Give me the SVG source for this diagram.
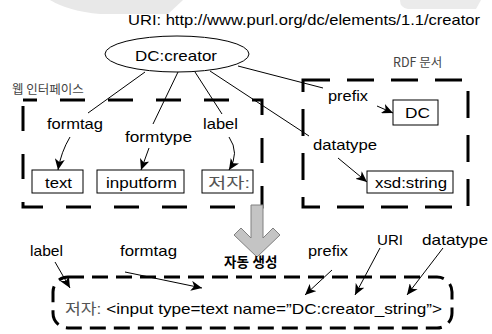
<svg xmlns="http://www.w3.org/2000/svg" width="492" height="334" viewBox="0 0 492 334">
<style>
  text { font-family: "Liberation Sans", "Noto Sans CJK KR", sans-serif; fill: #000; }
  .lbl { font-size: 15px; }
  .ko { font-family: "Noto Sans CJK KR", sans-serif; font-size: 12.5px; fill: #444; }
  .grey { fill: #555; }
  .box { fill: #fff; stroke: #000; stroke-width: 1; }
  .dash { fill: none; stroke: #000; stroke-width: 3; }
  .conn { fill: none; stroke: #000; stroke-width: 1; }
  .arr { marker-end: url(#ah); }
</style>
<defs>
  <marker id="ah" markerUnits="userSpaceOnUse" markerWidth="12" markerHeight="10" refX="11" refY="5" orient="auto">
    <path d="M0,0 L11,5 L0,10 L3,5 Z" fill="#000"/>
  </marker>
</defs>
<rect width="492" height="334" fill="#fff"/>
<!-- faint background shapes -->
<path d="M50,0 L183,0 L168,14 L100,14 Q68,11 50,0 Z" fill="#e8e8e8"/>
<path d="M400,0 L481,0 L476,9 L408,9 Q400,8 400,0 Z" fill="#ebebeb"/>

<text id="uri" class="lbl" x="128" y="25" textLength="352" lengthAdjust="spacingAndGlyphs">URI: http://www.purl.org/dc/elements/1.1/creator</text>

<g id="connectors">
  <line class="conn" x1="145" y1="72" x2="88" y2="113"/>
  <line class="conn" x1="178" y1="72" x2="153" y2="124"/>
  <line class="conn" x1="195" y1="72" x2="222" y2="114"/>
  <line class="conn" x1="210" y1="71" x2="309" y2="136"/>
  <line class="conn" x1="238" y1="66" x2="323" y2="88"/>
  <path class="conn arr" d="M70,137 Q61,152 58,170"/>
  <path class="conn arr" d="M149,148 L141,170"/>
  <path class="conn arr" d="M229,137 Q240,153 229,170"/>
  <path class="conn arr" d="M377,106 L393,113"/>
  <path class="conn arr" d="M338,158 L367,182"/>
  <path class="conn arr" d="M55,262 L70,288"/>
  <path class="conn arr" d="M125,272 L202,288"/>
  <path class="conn arr" d="M332,270 L305,295"/>
  <path class="conn arr" d="M380,248 L355,295"/>
  <path class="conn arr" d="M443,248 L407,295"/>
</g>

<g id="web-interface">
  <rect class="dash" x="23" y="100" width="239" height="107" stroke-dasharray="25 23" stroke-dashoffset="11"/>
  <text class="ko" x="12" y="94">웹 인터페이스</text>
</g>
<g id="rdf-doc">
  <rect class="dash" x="303" y="80" width="165" height="127" stroke-dasharray="27 17" stroke-dashoffset="0"/>
  <text class="ko" x="393" y="67">RDF 문서</text>
</g>

<g id="dc-creator">
  <ellipse cx="177" cy="54" rx="72" ry="18" class="box"/>
  <text class="lbl" x="135" y="61" textLength="82" lengthAdjust="spacingAndGlyphs">DC:creator</text>
</g>

<g id="lbl-formtag"><text class="lbl" x="47" y="129" textLength="56" lengthAdjust="spacingAndGlyphs">formtag</text></g>
<g id="lbl-formtype"><text class="lbl" x="125" y="142" textLength="67" lengthAdjust="spacingAndGlyphs">formtype</text></g>
<g id="lbl-label"><text class="lbl" x="203" y="129" textLength="35" lengthAdjust="spacingAndGlyphs">label</text></g>
<g id="lbl-prefix"><text class="lbl" x="328" y="101" textLength="40" lengthAdjust="spacingAndGlyphs">prefix</text></g>
<g id="lbl-datatype"><text class="lbl" x="313" y="150" textLength="64" lengthAdjust="spacingAndGlyphs">datatype</text></g>

<g id="box-text">
  <rect class="box" x="32" y="170" width="51" height="23"/>
  <text class="lbl" x="45" y="188" textLength="27" lengthAdjust="spacingAndGlyphs">text</text>
</g>
<g id="box-inputform">
  <rect class="box" x="97" y="170" width="87" height="23"/>
  <text class="lbl" x="106" y="188" textLength="71" lengthAdjust="spacingAndGlyphs">inputform</text>
</g>
<g id="box-jeoja">
  <rect class="box" x="202" y="170" width="51" height="23"/>
  <text class="lbl grey" x="208" y="188" textLength="42" lengthAdjust="spacingAndGlyphs">저자:</text>
</g>
<g id="box-dc">
  <rect class="box" x="393" y="100" width="45" height="25"/>
  <text class="lbl" x="405" y="118" textLength="25" lengthAdjust="spacingAndGlyphs">DC</text>
</g>
<g id="box-xsd">
  <rect class="box" x="367" y="171" width="86" height="22"/>
  <text class="lbl" x="375" y="188" textLength="72" lengthAdjust="spacingAndGlyphs">xsd:string</text>
</g>

<g id="auto-arrow">
  <polygon points="251,205 263,205 263,238 273,228 280,235 257,257 234,235 241,228 251,238" fill="#c4c4c4" stroke="#808080" stroke-width="1"/>
  <text x="224" y="267" font-family="'Noto Sans CJK KR', sans-serif" font-size="13.5" font-weight="bold">자동 생성</text>
</g>

<g id="bottom-labels">
  <text class="lbl" x="30" y="256" textLength="33" lengthAdjust="spacingAndGlyphs">label</text>
  <text class="lbl" x="120" y="256" textLength="57" lengthAdjust="spacingAndGlyphs">formtag</text>
  <text class="lbl" x="308" y="256" textLength="40" lengthAdjust="spacingAndGlyphs">prefix</text>
  <text class="lbl" x="377" y="245" textLength="26" lengthAdjust="spacingAndGlyphs">URI</text>
  <text class="lbl" x="422" y="245" textLength="66" lengthAdjust="spacingAndGlyphs">datatype</text>
</g>

<g id="generated-code">
  <rect class="dash" x="53" y="277" width="399" height="51" rx="15" ry="15" stroke-dasharray="16 8"/>
  <text class="lbl" x="65" y="314" textLength="377" lengthAdjust="spacingAndGlyphs"><tspan class="grey">저자:</tspan> &lt;input type=text name=”DC:creator_string”&gt;</text>
</g>
</svg>
